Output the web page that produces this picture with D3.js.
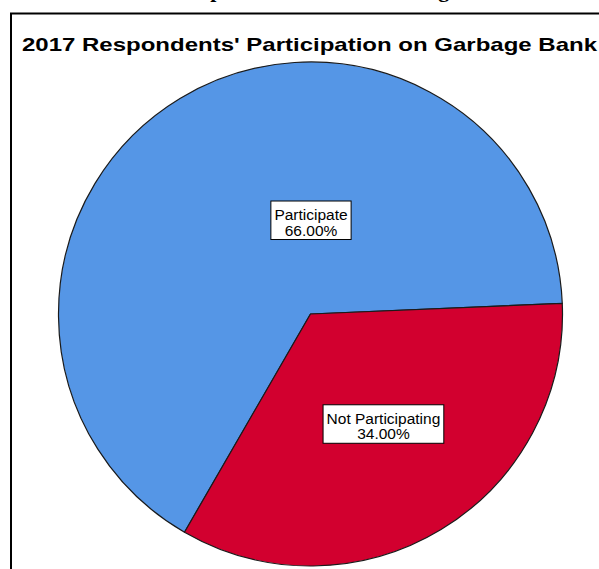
<!DOCTYPE html>
<html>
<head>
<meta charset="utf-8">
<script src="https://cdn.jsdelivr.net/npm/d3@7"></script>
<style>
  html, body { margin: 0; padding: 0; background: #fff; overflow: hidden; }
</style>
</head>
<body>
<svg id="chart"></svg>
<script>
// data
const categories = ['Participate', 'Not Participating'];
const percents = [66.0, 34.0];
const sliceColors = ['#5596e6', '#d2002f'];

const chartTitle = "2017 Respondents' Participation on Garbage Bank";
const captionText = 'Respondents and the Garbage Bank';

const width = 599;
const height = 569;

const svg = d3.select('#chart')
  .attr('width', width)
  .attr('height', height);

// caption of the page above, mostly cut off (only descenders show)
svg.append('text')
  .attr('x', 176)
  .attr('y', -3.5)
  .attr('font-family', '"Liberation Serif", "Times New Roman", serif')
  .attr('font-weight', 'bold')
  .attr('font-size', 22)
  .attr('fill', '#000')
  .text(captionText);

// frame of the chart, runs out of the picture
svg.append('rect')
  .attr('x', 11)
  .attr('y', 13.5)
  .attr('width', 700)
  .attr('height', 700)
  .attr('fill', 'none')
  .attr('stroke', '#000')
  .attr('stroke-width', 2);

svg.append('text')
  .attr('x', 22)
  .attr('y', 51)
  .attr('font-family', '"Liberation Sans", Arial, sans-serif')
  .attr('font-weight', 'bold')
  .attr('font-size', 19)
  .attr('textLength', 575)
  .attr('lengthAdjust', 'spacingAndGlyphs')
  .attr('fill', '#000')
  .text(chartTitle);

const cx = 310.5;
const cy = 314;
const radius = 252;

const rows = categories.map((c, i) => ({ name: c, value: percents[i] }));

const color = d3.scaleOrdinal()
  .domain(categories)
  .range(sliceColors);

const startDeg = 210;
const pie = d3.pie()
  .sort(null)
  .value(d => d.value)
  .startAngle(startDeg * Math.PI / 180)
  .endAngle((startDeg + 360) * Math.PI / 180);

const arc = d3.arc()
  .innerRadius(0)
  .outerRadius(radius);

const g = svg.append('g')
  .attr('transform', `translate(${cx},${cy})`);

const arcs = pie(rows);

g.selectAll('path')
  .data(arcs)
  .enter()
  .append('path')
  .attr('d', arc)
  .attr('fill', d => color(d.data.name))
  .attr('stroke', '#1a1a1a')
  .attr('stroke-width', 1.2)
  .attr('stroke-linejoin', 'round');

// label placement: angle (deg, clockwise from top) and distance as share of radius
const labelPlace = [
  { angle: 0.3, dist: 0.373 },
  { angle: 146.4, dist: 0.523 }
];

const labels = g.selectAll('g.lbl')
  .data(arcs)
  .enter()
  .append('g')
  .attr('class', 'lbl')
  .attr('transform', (d, i) => {
    const a = labelPlace[i].angle * Math.PI / 180;
    const r = labelPlace[i].dist * radius;
    return `translate(${r * Math.sin(a)},${-r * Math.cos(a)})`;
  });

labels.each(function(d) {
  const lg = d3.select(this);
  const lines = [d.data.name, d3.format('.2f')(d.data.value) + '%'];
  const t = lg.append('text')
    .attr('font-family', '"Liberation Sans", Arial, sans-serif')
    .attr('font-size', 15.5)
    .attr('fill', '#000')
    .attr('text-anchor', 'middle');
  lines.forEach((s, k) => {
    t.append('tspan')
      .attr('x', 0)
      .attr('y', k * 15.5)
      .text(s);
  });
  const bb = t.node().getBBox();
  lg.insert('rect', 'text')
    .attr('x', bb.x - 3.5)
    .attr('y', -19)
    .attr('width', bb.width + 7)
    .attr('height', 38.5)
    .attr('fill', '#fff')
    .attr('stroke', '#000')
    .attr('stroke-width', 1);
});
</script>
</body>
</html>
